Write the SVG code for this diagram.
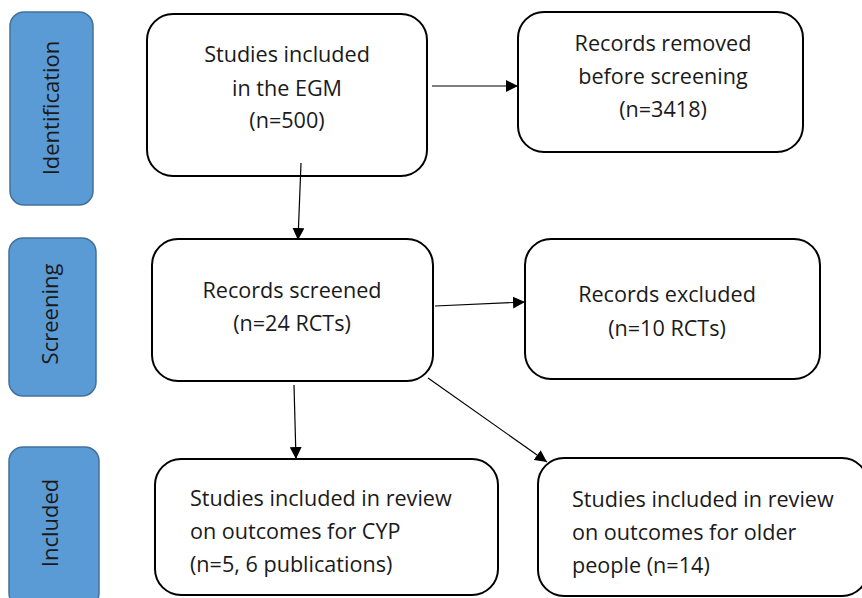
<svg xmlns="http://www.w3.org/2000/svg" width="862" height="598" viewBox="0 0 862 598">
<defs>
<style>
.stage rect{fill:#5B9BD5;stroke:#41719C;stroke-width:1.5}
.stage text{font-family:"Open Sans","Liberation Sans",sans-serif;font-size:22px;fill:#1a1a1a;text-anchor:middle}
.node rect{fill:#fff;stroke:#000;stroke-width:2}
.node text{font-family:"Open Sans","Liberation Sans",sans-serif;font-size:21.6px;fill:#1a1a1a}
.c{text-anchor:middle}
#connectors line{stroke:#000;stroke-width:1.2;marker-end:url(#ah)}
</style>
<marker id="ah" viewBox="0 0 10 10" refX="10" refY="5" markerWidth="12" markerHeight="12" markerUnits="userSpaceOnUse" orient="auto">
<path d="M0,0 L10,5 L0,10 z" fill="#000"/>
</marker>
</defs>
<rect width="862" height="598" fill="#fff"/>
<g id="stage-identification" class="stage">
<rect x="10" y="12" width="83" height="193" rx="14"/>
<text transform="translate(59,108) rotate(-90)">Identification</text>
</g>
<g id="stage-screening" class="stage">
<rect x="9" y="238" width="87" height="158" rx="14"/>
<text transform="translate(58,314) rotate(-90)">Screening</text>
</g>
<g id="stage-included" class="stage">
<rect x="9" y="447" width="90" height="160" rx="14"/>
<text transform="translate(58,523) rotate(-90)">Included</text>
</g>
<g id="n-egm" class="node">
<rect x="147" y="14" width="280" height="162" rx="26"/>
<text class="c" x="287" y="62">Studies included</text>
<text class="c" x="287" y="96">in the EGM</text>
<text class="c" x="287" y="128">(n=500)</text>
</g>
<g id="n-removed" class="node">
<rect x="518" y="12" width="285" height="140" rx="26"/>
<text class="c" x="663" y="51">Records removed</text>
<text class="c" x="663" y="84">before screening</text>
<text class="c" x="663" y="117">(n=3418)</text>
</g>
<g id="n-screened" class="node">
<rect x="152" y="239" width="281" height="142" rx="26"/>
<text class="c" x="292" y="298">Records screened</text>
<text class="c" x="292" y="331">(n=24 RCTs)</text>
</g>
<g id="n-excluded" class="node">
<rect x="525" y="239" width="295" height="140" rx="26"/>
<text class="c" x="667" y="302">Records excluded</text>
<text class="c" x="667" y="336">(n=10 RCTs)</text>
</g>
<g id="n-cyp" class="node">
<rect x="155" y="459" width="343" height="136" rx="26"/>
<text x="190" y="506">Studies included in review</text>
<text x="190" y="539">on outcomes for CYP</text>
<text x="190" y="572">(n=5, 6 publications)</text>
</g>
<g id="n-older" class="node">
<rect x="538" y="458" width="330" height="138" rx="26"/>
<text x="572" y="507">Studies included in review</text>
<text x="572" y="540">on outcomes for older</text>
<text x="572" y="573">people (n=14)</text>
</g>
<g id="connectors">
<line x1="432" y1="86" x2="518" y2="86"/>
<line x1="301" y1="163" x2="298" y2="240"/>
<line x1="435" y1="306" x2="525" y2="302"/>
<line x1="294" y1="385" x2="296" y2="459"/>
<line x1="428" y1="378" x2="547" y2="462"/>
</g>
</svg>
